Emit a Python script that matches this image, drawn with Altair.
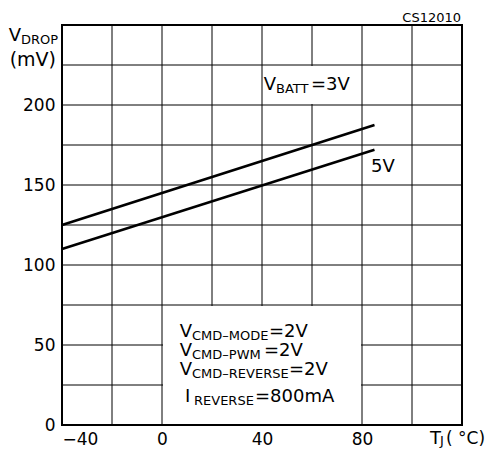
import altair as alt
import pandas as pd

# ---- data ----
temp_c = [-40, 85]
vdrop_vbatt_3v = [125, 187.5]
vdrop_vbatt_5v = [110, 172]
series_names = ["3V", "5V"]

x_ticks = [-40, -20, 0, 20, 40, 60, 80, 100, 120]
y_ticks = [0, 25, 50, 75, 100, 125, 150, 175, 200, 225, 250]

df = pd.DataFrame({
    "T": temp_c + temp_c,
    "V": vdrop_vbatt_3v + vdrop_vbatt_5v,
    "series": [series_names[0]] * 2 + [series_names[1]] * 2,
})

FONT = "DejaVu Sans"
xs = alt.Scale(domain=[-40, 120], nice=False, zero=False)
ys = alt.Scale(domain=[0, 250], nice=False, zero=False)

xax = alt.Axis(values=x_ticks, grid=False, ticks=False, domain=False, title=None,
               labelExpr="(datum.value % 40 == 0 && datum.value < 120) ? datum.label : ''",
               labelFontSize=17, labelPadding=6, labelColor="black", labelFont=FONT)
yax = alt.Axis(values=y_ticks, grid=False, ticks=False, domain=False, title=None,
               labelExpr="(datum.value % 50 == 0 && datum.value < 250) ? datum.label : ''",
               labelFontSize=17, labelPadding=7, labelColor="black", labelFont=FONT)

lines = alt.Chart(df).mark_line(color="black", strokeWidth=2.5).encode(
    x=alt.X("T:Q", scale=xs, axis=xax),
    y=alt.Y("V:Q", scale=ys, axis=yax),
    detail="series:N",
)

vgrid = alt.Chart(pd.DataFrame({"gx": x_ticks})).mark_rule(color="black", strokeWidth=1).encode(
    x=alt.X("gx:Q", scale=xs, axis=xax))
hgrid = alt.Chart(pd.DataFrame({"gy": y_ticks})).mark_rule(color="black", strokeWidth=1).encode(
    y=alt.Y("gy:Q", scale=ys, axis=yax))


def box(x1, x2, y1, y2):
    return alt.Chart().mark_rect(color="white").encode(
        x=alt.XDatum(x1, type="quantitative"), x2=alt.X2Datum(x2),
        y=alt.YDatum(y1, type="quantitative"), y2=alt.Y2Datum(y2),
    )


def txt(s, x, y, size=18, align="left"):
    return alt.Chart().mark_text(text=s, fontSize=size, align=align, baseline="alphabetic",
                                 font=FONT, color="black").encode(
        x=alt.XDatum(x, type="quantitative"), y=alt.YDatum(y, type="quantitative"))


covers = [box(0.4, 79.6, 0.6, 74.4), box(40.4, 79.6, 200.6, 224.4)]

frame = alt.Chart().mark_rect(filled=False, stroke="black", strokeWidth=2).encode(
    x=alt.XDatum(-40, type="quantitative"), x2=alt.X2Datum(120),
    y=alt.YDatum(0, type="quantitative"), y2=alt.Y2Datum(250),
)

labels = [
    txt("V", -56.4, 240, 18, "right"), txt("DROP", -56.4, 238.1, 13),
    txt("(mV)", -42.4, 224.4, 19, "right"),
    txt("CS12010", 119.6, 251.9, 13, "right"),
    txt("V", 45.6, 209.4, 18, "right"), txt("BATT", 45.6, 207.5, 13), txt("=3V", 59.6, 209.4, 18),
    txt("5V", 83.6, 158.1, 18),
    txt("V", 12, 55, 18, "right"), txt("CMD–MODE", 12, 53.1, 13), txt("=2V", 42.8, 55, 18),
    txt("V", 12, 43.1, 18, "right"), txt("CMD–PWM", 12, 41.25, 13), txt("=2V", 40.8, 43.1, 18),
    txt("V", 12, 31.25, 18, "right"), txt("CMD–REVERSE", 12, 29.4, 13), txt("=2V", 50.8, 31.25, 18),
    txt("I", 9.2, 14.6, 18), txt("REVERSE", 12.8, 12.7, 13), txt("=800mA", 37.2, 14.6, 18),
    txt("T", 107.2, -11.9, 18), txt("J", 111.2, -12.5, 13), txt("( °C)", 113.6, -11.9, 17),
]

chart = alt.layer(vgrid, hgrid, *covers, lines, frame, *labels).properties(
    width=400, height=400,
    autosize=alt.AutoSizeParams(type="none"),
    padding={"left": 54, "top": 17, "right": 27, "bottom": 23},
).configure_view(stroke=None)

chart.save("out.html", embed_options={"renderer": "svg", "actions": False})
